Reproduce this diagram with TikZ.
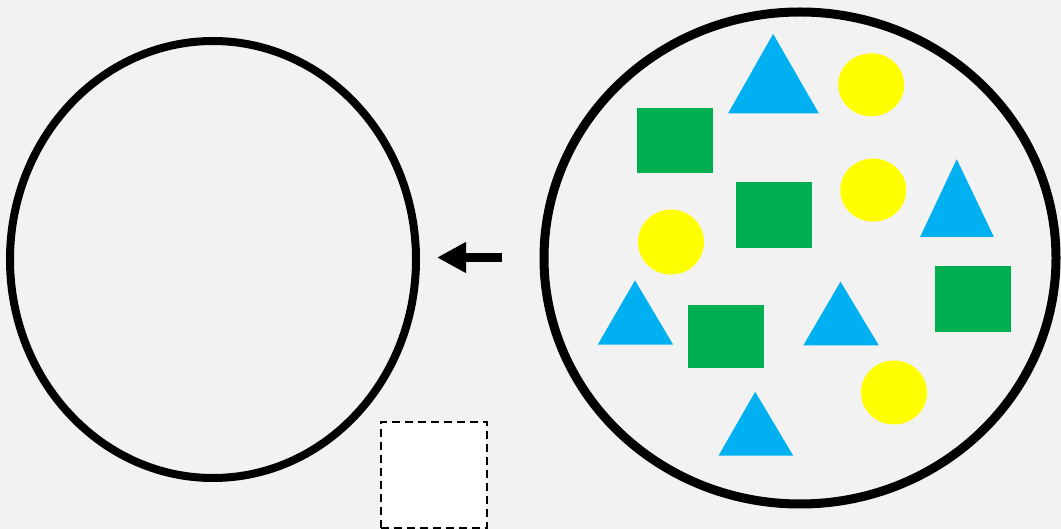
\documentclass[tikz,border=0pt]{standalone}
\usetikzlibrary{shapes.geometric,arrows.meta}
\definecolor{bgc}{HTML}{F2F2F2}
\definecolor{triblue}{HTML}{00B0F0}
\definecolor{sqgreen}{HTML}{00B050}
\definecolor{dotyellow}{HTML}{FFFF00}
\begin{document}
\begin{tikzpicture}[x=1pt,y=-1pt,
  ring/.style={ellipse, draw=black, line width=8pt, inner sep=0pt, outer sep=0pt},
  dot/.style={ellipse, fill=dotyellow, inner sep=0pt, minimum width=66pt, minimum height=63pt},
  tri/.style={fill=triblue},
  sq/.style={fill=sqgreen},
  holder/.style={rectangle, draw=black, fill=white, dashed, line width=1.8pt, dash pattern=on 8pt off 5pt, inner sep=0pt, minimum width=106pt, minimum height=106pt},
  arr/.style={line width=8.5pt, -{Triangle[length=29pt,width=29pt]}}
]
\fill[bgc] (0,0) rectangle (1061,529);
\useasboundingbox (0,0) rectangle (1061,529);

% left empty ring
\node[ring, minimum width=406pt, minimum height=437pt] (leftring) at (213,259.5) {};
% right ring
\node[ring, line width=9pt, minimum width=512pt, minimum height=492pt] (rightring) at (800,258) {};

% arrow
\coordinate (astart) at (502,257.5);
\coordinate (atip) at (437,257.5);
\draw[arr] (astart) -- (atip);

% dashed placeholder square
\node[holder] (placeholder) at (434,475) {};

% triangles
\fill[tri] (773.1,33.9) -- (818.9,113.4) -- (728.1,113.4) -- cycle;
\fill[tri] (956.7,159.2) -- (993.9,237) -- (920.1,237) -- cycle;
\fill[tri] (635,280.4) -- (673.2,344.7) -- (597.7,344.7) -- cycle;
\fill[tri] (840.5,281.7) -- (878.8,345.4) -- (803.3,345.4) -- cycle;
\fill[tri] (755.2,391.8) -- (793.1,455.5) -- (718.6,455.5) -- cycle;

% squares
\fill[sq] (636.7,107.7) rectangle (712.9,172.7);
\fill[sq] (735.6,182.2) rectangle (812.1,248.2);
\fill[sq] (934.7,266.5) rectangle (1010.9,331.9);
\fill[sq] (687.5,304.8) rectangle (763.7,368.4);

% circles
\node[dot] (c1) at (871.2,84.8) {};
\node[dot] (c2) at (873.2,190.1) {};
\node[dot, minimum height=65pt] (c3) at (671,242.1) {};
\node[dot, minimum height=64pt] (c4) at (894,392.5) {};
\end{tikzpicture}
\end{document}
